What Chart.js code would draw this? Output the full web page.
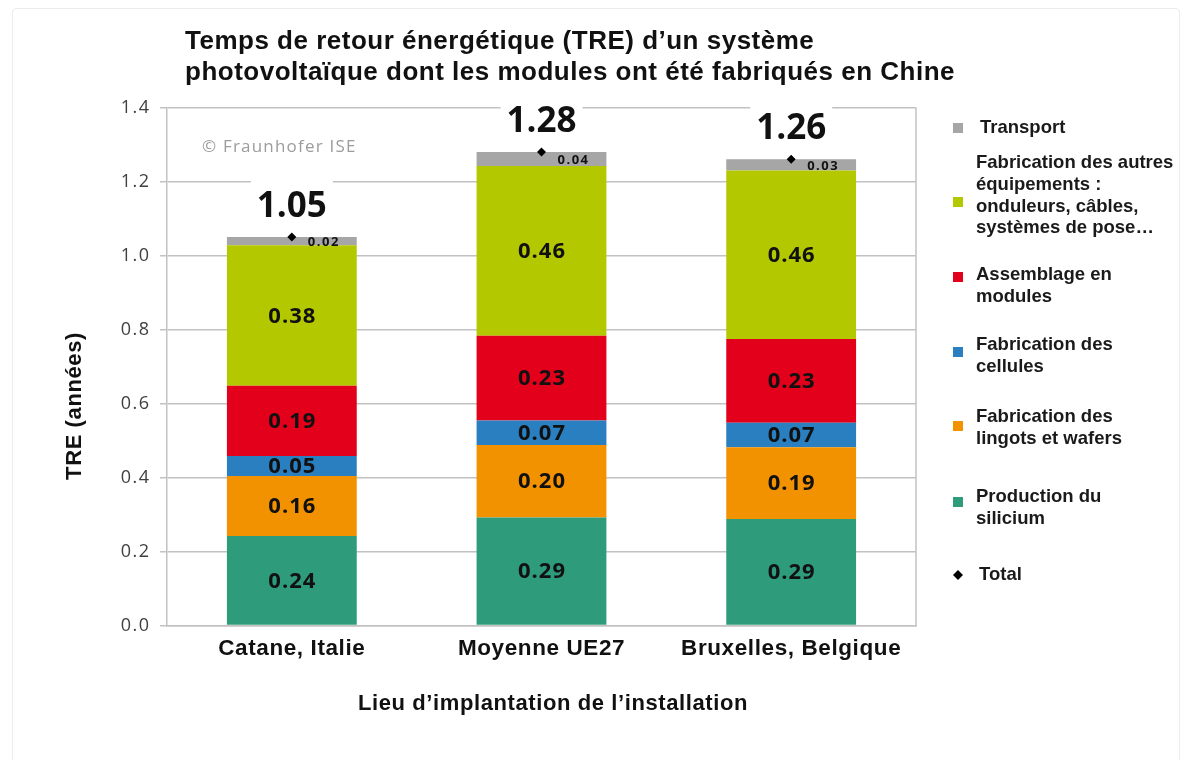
<!DOCTYPE html>
<html lang="fr">
<head>
<meta charset="utf-8">
<title>Temps de retour énergétique</title>
<script src="https://cdn.jsdelivr.net/npm/chart.js@4.4.1/dist/chart.umd.min.js"></script>
<style>
  html, body { margin: 0; padding: 0; background: #fff; }
  #wrap { position: relative; width: 1192px; height: 760px; overflow: hidden; }
  #frame { position: absolute; left: 12px; top: 8px; width: 1166px; height: 770px; border: 1px solid #ececec; border-radius: 4px; }
  canvas { position: absolute; left: 0; top: 0; }
</style>
</head>
<body>
<div id="wrap"><div id="frame"></div><canvas id="myChart" width="1192" height="760"></canvas></div>
<script>
// données
const categories = ['Catane, Italie', 'Moyenne UE27', 'Bruxelles, Belgique'];
const silicium   = [0.242, 0.292, 0.288];
const lingots    = [0.162, 0.196, 0.194];
const cellules   = [0.054, 0.066, 0.066];
const assemblage = [0.190, 0.229, 0.226];
const autres     = [0.380, 0.459, 0.456];
const transport  = [0.022, 0.038, 0.030];
const totals     = [1.05, 1.28, 1.26];
const yTicks     = [0, 0.2, 0.4, 0.6, 0.8, 1.0, 1.2, 1.4];

const legendLines = [
  ['Production du', 'silicium'],
  ['Fabrication des', 'lingots et wafers'],
  ['Fabrication des', 'cellules'],
  ['Assemblage en', 'modules'],
  ['Fabrication des autres', 'équipements :', 'onduleurs, câbles,', 'systèmes de pose…'],
  ['Transport']
];
const totalLabel = 'Total';

// styles
const seriesValues = [silicium, lingots, cellules, assemblage, autres, transport];
const seriesColors = ['#2e9b7b', '#f39200', '#2a7fc1', '#e2001a', '#b4c800', '#a6a6a6'];
const ARIAL = '"Liberation Sans", Arial, sans-serif';
const OPEN = '"Open Sans", "Noto Sans", sans-serif';
const GRID = '#c2c2c2';

// position de la légende (px)
const legendMarkerY = [502, 426, 352, 277, 202, 128];
const legendTextY = [497, 417, 345, 275, 163, 128];
const legendTotalY = 575;

const datasets = seriesValues.map((vals, i) => ({
  type: 'bar',
  label: legendLines[i].join(' '),
  data: vals,
  backgroundColor: seriesColors[i],
  borderWidth: 0,
  barPercentage: 0.52,
  categoryPercentage: 1.0,
  order: 1
}));
const totalIndex = datasets.length;
datasets.push({
  type: 'line',
  label: totalLabel,
  data: totals,
  showLine: false,
  pointStyle: 'rectRot',
  pointRadius: 4.5,
  pointBackgroundColor: '#000',
  pointBorderColor: '#000',
  pointBorderWidth: 0,
  order: 0
});

const decor = {
  id: 'decor',
  beforeDraw(chart) {
    // graduations de l'axe y un peu espacées, comme sur l'original
    chart.ctx.letterSpacing = '1.5px';
  },
  beforeDatasetsDraw(chart) {
    const { ctx, chartArea: a } = chart;
    ctx.letterSpacing = '0px';
    ctx.save();
    ctx.strokeStyle = GRID;
    ctx.lineWidth = 1.5;
    ctx.beginPath();
    ctx.moveTo(a.right, a.top);
    ctx.lineTo(a.right, a.bottom);
    ctx.stroke();

    ctx.fillStyle = '#9c9c9c';
    ctx.font = '17px ' + OPEN;
    ctx.letterSpacing = '1.2px';
    ctx.textAlign = 'left';
    ctx.textBaseline = 'middle';
    ctx.fillText('© Fraunhofer ISE', a.left + 35, a.top + 40);

    // fond blanc derrière les totaux
    ctx.fillStyle = '#fff';
    chart.getDatasetMeta(totalIndex).data.forEach(p => {
      ctx.fillRect(p.x - 41, p.y - 61, 82, 45);
    });
    ctx.restore();
    ctx.letterSpacing = '0px';
  },
  afterDatasetsDraw(chart) {
    const ctx = chart.ctx;
    ctx.save();
    ctx.textAlign = 'center';
    ctx.textBaseline = 'middle';
    ctx.fillStyle = '#111';
    seriesValues.forEach((vals, i) => {
      const meta = chart.getDatasetMeta(i);
      meta.data.forEach((el, j) => {
        const { x, y, base } = el.getProps(['x', 'y', 'base'], true);
        const txt = vals[j].toFixed(2);
        if (i === seriesValues.length - 1) {
          ctx.font = 'bold 13px ' + OPEN;
          ctx.letterSpacing = '1.5px';
          ctx.fillText(txt, x + 32, (y + base) / 2 + 1);
        } else {
          ctx.font = 'bold 22px ' + OPEN;
          ctx.letterSpacing = '1px';
          ctx.fillText(txt, x + 0.5, (y + base) / 2 + 1);
        }
      });
    });
    ctx.font = 'bold 35px ' + OPEN;
    ctx.letterSpacing = '0px';
    chart.getDatasetMeta(totalIndex).data.forEach((p, j) => {
      ctx.fillText(totals[j].toFixed(2), p.x, p.y - 30);
    });
    ctx.restore();
    // les étiquettes de l'axe x (z: 1) sont dessinées juste après
    ctx.letterSpacing = '0.6px';
  },
  afterDraw(chart) {
    const ctx = chart.ctx;
    ctx.letterSpacing = '0px';
    ctx.save();
    ctx.fillStyle = '#111';
    // titre
    ctx.font = 'bold 26px ' + ARIAL;
    ctx.letterSpacing = '0.5px';
    ctx.textAlign = 'left';
    ctx.textBaseline = 'alphabetic';
    ctx.fillText('Temps de retour énergétique (TRE) d’un système', 185, 49);
    ctx.fillText('photovoltaïque dont les modules ont été fabriqués en Chine', 185, 80);

    // titres des axes
    ctx.font = 'bold 22px ' + ARIAL;
    ctx.letterSpacing = '0.6px';
    ctx.textAlign = 'center';
    ctx.textBaseline = 'middle';
    ctx.fillText('Lieu d’implantation de l’installation', 553, 704);
    ctx.save();
    ctx.translate(75, 406);
    ctx.rotate(-Math.PI / 2);
    ctx.fillText('TRE (années)', 0, 0);
    ctx.restore();

    // légende
    ctx.font = 'bold 18.5px ' + ARIAL;
    ctx.letterSpacing = '0px';
    ctx.textAlign = 'left';
    for (let i = seriesValues.length - 1; i >= 0; i--) {
      ctx.fillStyle = seriesColors[i];
      ctx.fillRect(953, legendMarkerY[i] - 5, 10, 10);
      ctx.fillStyle = '#1a1a1a';
      legendLines[i].forEach((line, k) => {
        ctx.fillText(line, i === seriesValues.length - 1 ? 980 : 976, legendTextY[i] + k * 21.8);
      });
    }
    ctx.fillStyle = '#000';
    ctx.beginPath();
    ctx.moveTo(958, legendTotalY - 5);
    ctx.lineTo(963, legendTotalY);
    ctx.lineTo(958, legendTotalY + 5);
    ctx.lineTo(953, legendTotalY);
    ctx.closePath();
    ctx.fill();
    ctx.fillStyle = '#1a1a1a';
    ctx.fillText(totalLabel, 979, legendTotalY);
    ctx.restore();
  }
};

const ctx = document.getElementById('myChart').getContext('2d');
new Chart(ctx, {
  data: { labels: categories, datasets: datasets },
  options: {
    responsive: false,
    animation: false,
    layout: { padding: { top: 107.5, right: 276, bottom: 0, left: 0 } },
    plugins: {
      legend: { display: false },
      tooltip: { enabled: false },
      title: { display: false }
    },
    scales: {
      x: {
        stacked: true,
        offset: true,
        grid: { display: false, drawTicks: false },
        border: { display: true, color: GRID, width: 1.5 },
        ticks: {
          z: 1,
          color: '#111',
          padding: 10,
          font: { family: ARIAL, size: 22.5, weight: 'bold' }
        },
        afterFit: s => { s.height = 134.5; }
      },
      y: {
        stacked: true,
        min: 0,
        max: 1.4,
        afterBuildTicks: s => { s.ticks = yTicks.map(v => ({ value: v })); },
        grid: { color: GRID, lineWidth: 1.5, tickLength: 7, drawTicks: true },
        border: { display: true, color: GRID, width: 1.5 },
        ticks: {
          color: '#404040',
          padding: 9.5,
          font: { family: OPEN, size: 18 },
          callback: v => Number(v).toFixed(1)
        },
        afterFit: s => { s.width = 167; }
      }
    }
  },
  plugins: [decor]
});
</script>
</body>
</html>
